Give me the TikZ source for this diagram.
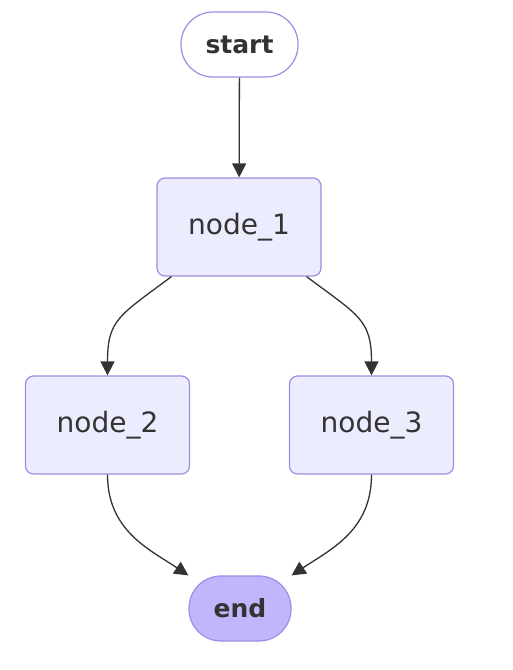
\documentclass[tikz,border=0pt]{standalone}
\usepackage{fontspec}
\setmainfont{DejaVu Sans}
\usetikzlibrary{arrows.meta,positioning}
\definecolor{Lav}{HTML}{ECECFF}
\definecolor{LavLine}{HTML}{9E8DE3}
\definecolor{EndFill}{HTML}{BFB6FC}
\definecolor{Ink}{HTML}{333333}

\begin{document}
\begin{tikzpicture}[x=1pt,y=-1pt,>={Triangle[length=14pt,width=14pt]},
 font=\fontsize{28}{32}\selectfont,
 box/.style={draw=LavLine,fill=Lav,line width=1.2pt,rounded corners=8pt,
  minimum width=164pt,minimum height=98pt,text=Ink},
 pill/.style={draw=LavLine,line width=1.2pt,rounded corners=32pt,
  minimum height=65pt,text=Ink,font=\fontsize{25}{29}\selectfont\bfseries},
 edge/.style={->,draw=Ink,line width=1.3pt}]
\useasboundingbox (0,0) rectangle (512,670);
\node[pill,fill=white,minimum width=117pt] (start) at (239.5,44.5) {start};
\node[box] (n1) at (239,227) {node\_1};
\node[box] (n2) at (107.5,425) {node\_2};
\node[box] (n3) at (371.5,425) {node\_3};
\node[pill,fill=EndFill,minimum width=102pt] (end) at (240,608.5) {end};
\draw[edge] (start) -- (n1);
\draw[edge] ([xshift=15pt]n1.south west) .. controls +(-52,39) and +(0,-56) .. (n2.north);
\draw[edge] ([xshift=-15pt]n1.south east) .. controls +(52,39) and +(0,-56) .. (n3.north);
\draw[edge] (n2.south) .. controls +(0,56) and +(-39,-26) .. (end.north west);
\draw[edge] (n3.south) .. controls +(0,56) and +(39,-26) .. (end.north east);
\end{tikzpicture}
\end{document}
